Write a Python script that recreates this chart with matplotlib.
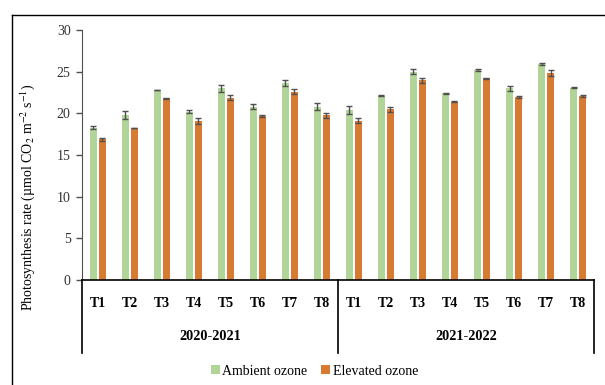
import matplotlib.pyplot as plt
import numpy as np
from matplotlib.lines import Line2D

plt.rcParams['font.family'] = ['Liberation Serif', 'DejaVu Serif']
plt.rcParams['mathtext.fontset'] = 'stix'

# datos
tratamientos = ['T1', 'T2', 'T3', 'T4', 'T5', 'T6', 'T7', 'T8']
temporadas = ['2020-2021', '2021-2022']

ambiente = [18.3, 19.8, 22.8, 20.2, 23.0, 20.8, 23.6, 20.8,
            20.4, 22.1, 25.0, 22.4, 25.2, 23.0, 25.9, 23.1]
ambiente_err = [0.15, 0.45, 0.05, 0.2, 0.4, 0.3, 0.35, 0.45,
                0.45, 0.05, 0.3, 0.05, 0.1, 0.3, 0.1, 0.05]
elevado = [16.9, 18.3, 21.8, 19.1, 21.9, 19.7, 22.6, 19.8,
           19.1, 20.5, 24.0, 21.4, 24.2, 22.0, 24.8, 22.1]
elevado_err = [0.2, 0.0, 0.1, 0.35, 0.35, 0.1, 0.3, 0.3,
               0.3, 0.3, 0.3, 0.05, 0.1, 0.1, 0.35, 0.1]

verde = '#B1D598'
naranja = '#D97A33'
gris = '#505050'

fig = plt.figure(figsize=(6.05, 3.85), dpi=100)
ax = fig.add_axes([0.135, 0.2727, 0.847, 0.6493])

x = np.arange(len(ambiente))
ancho = 0.22
err_kw = dict(ecolor=gris, elinewidth=1, capsize=2.2, capthick=1)
ax.bar(x - 0.14, ambiente, ancho, yerr=ambiente_err, color=verde,
       error_kw=err_kw, label='Ambient ozone')
ax.bar(x + 0.14, elevado, ancho, yerr=elevado_err, color=naranja,
       error_kw=err_kw, label='Elevated ozone')

ax.set_xlim(-0.5, len(ambiente) - 0.5)
ax.set_ylim(0, 30)
ax.set_yticks(range(0, 31, 5))
ax.tick_params(axis='y', direction='out', length=4, width=1, color=gris,
               labelsize=10, labelcolor='#333333', pad=4)

ax.set_xticks(x)
ax.set_xticklabels(tratamientos * 2, fontweight='bold', fontsize=10)
ax.tick_params(axis='x', length=0, pad=12)

for lado in ['top', 'right']:
    ax.spines[lado].set_visible(False)
ax.spines['left'].set_color(gris)
ax.spines['bottom'].set_color('black')
ax.spines['bottom'].set_linewidth(1.2)

# divisores de temporadas
for pos in [-0.5, 7.5, 15.5]:
    ax.add_line(Line2D([pos, pos], [0, -0.29], transform=ax.get_xaxis_transform(),
                       color='black', lw=1.2, clip_on=False))
for i, t in enumerate(temporadas):
    ax.text(3.5 + 8 * i, -0.225, t, transform=ax.get_xaxis_transform(),
            ha='center', va='center', fontweight='bold', fontsize=10.3)

ax.set_ylabel('Photosynthesis rate (µmol CO$_2$ m$^{-2}$ s$^{-1}$)', fontsize=10)
ax.yaxis.set_label_coords(-0.087, 0.33)

fig.legend(loc='center', bbox_to_anchor=(0.52, 0.036), ncol=2, frameon=False,
           fontsize=10, handlelength=0.6, handleheight=0.6, handletextpad=0.2,
           columnspacing=1.0)

# marco exterior
fig.add_artist(Line2D([0.0203, 0.0203], [0, 0.962], color='black', lw=1))
fig.add_artist(Line2D([0.0203, 1.0], [0.962, 0.962], color='black', lw=1))

plt.savefig('out.png', dpi=100)
